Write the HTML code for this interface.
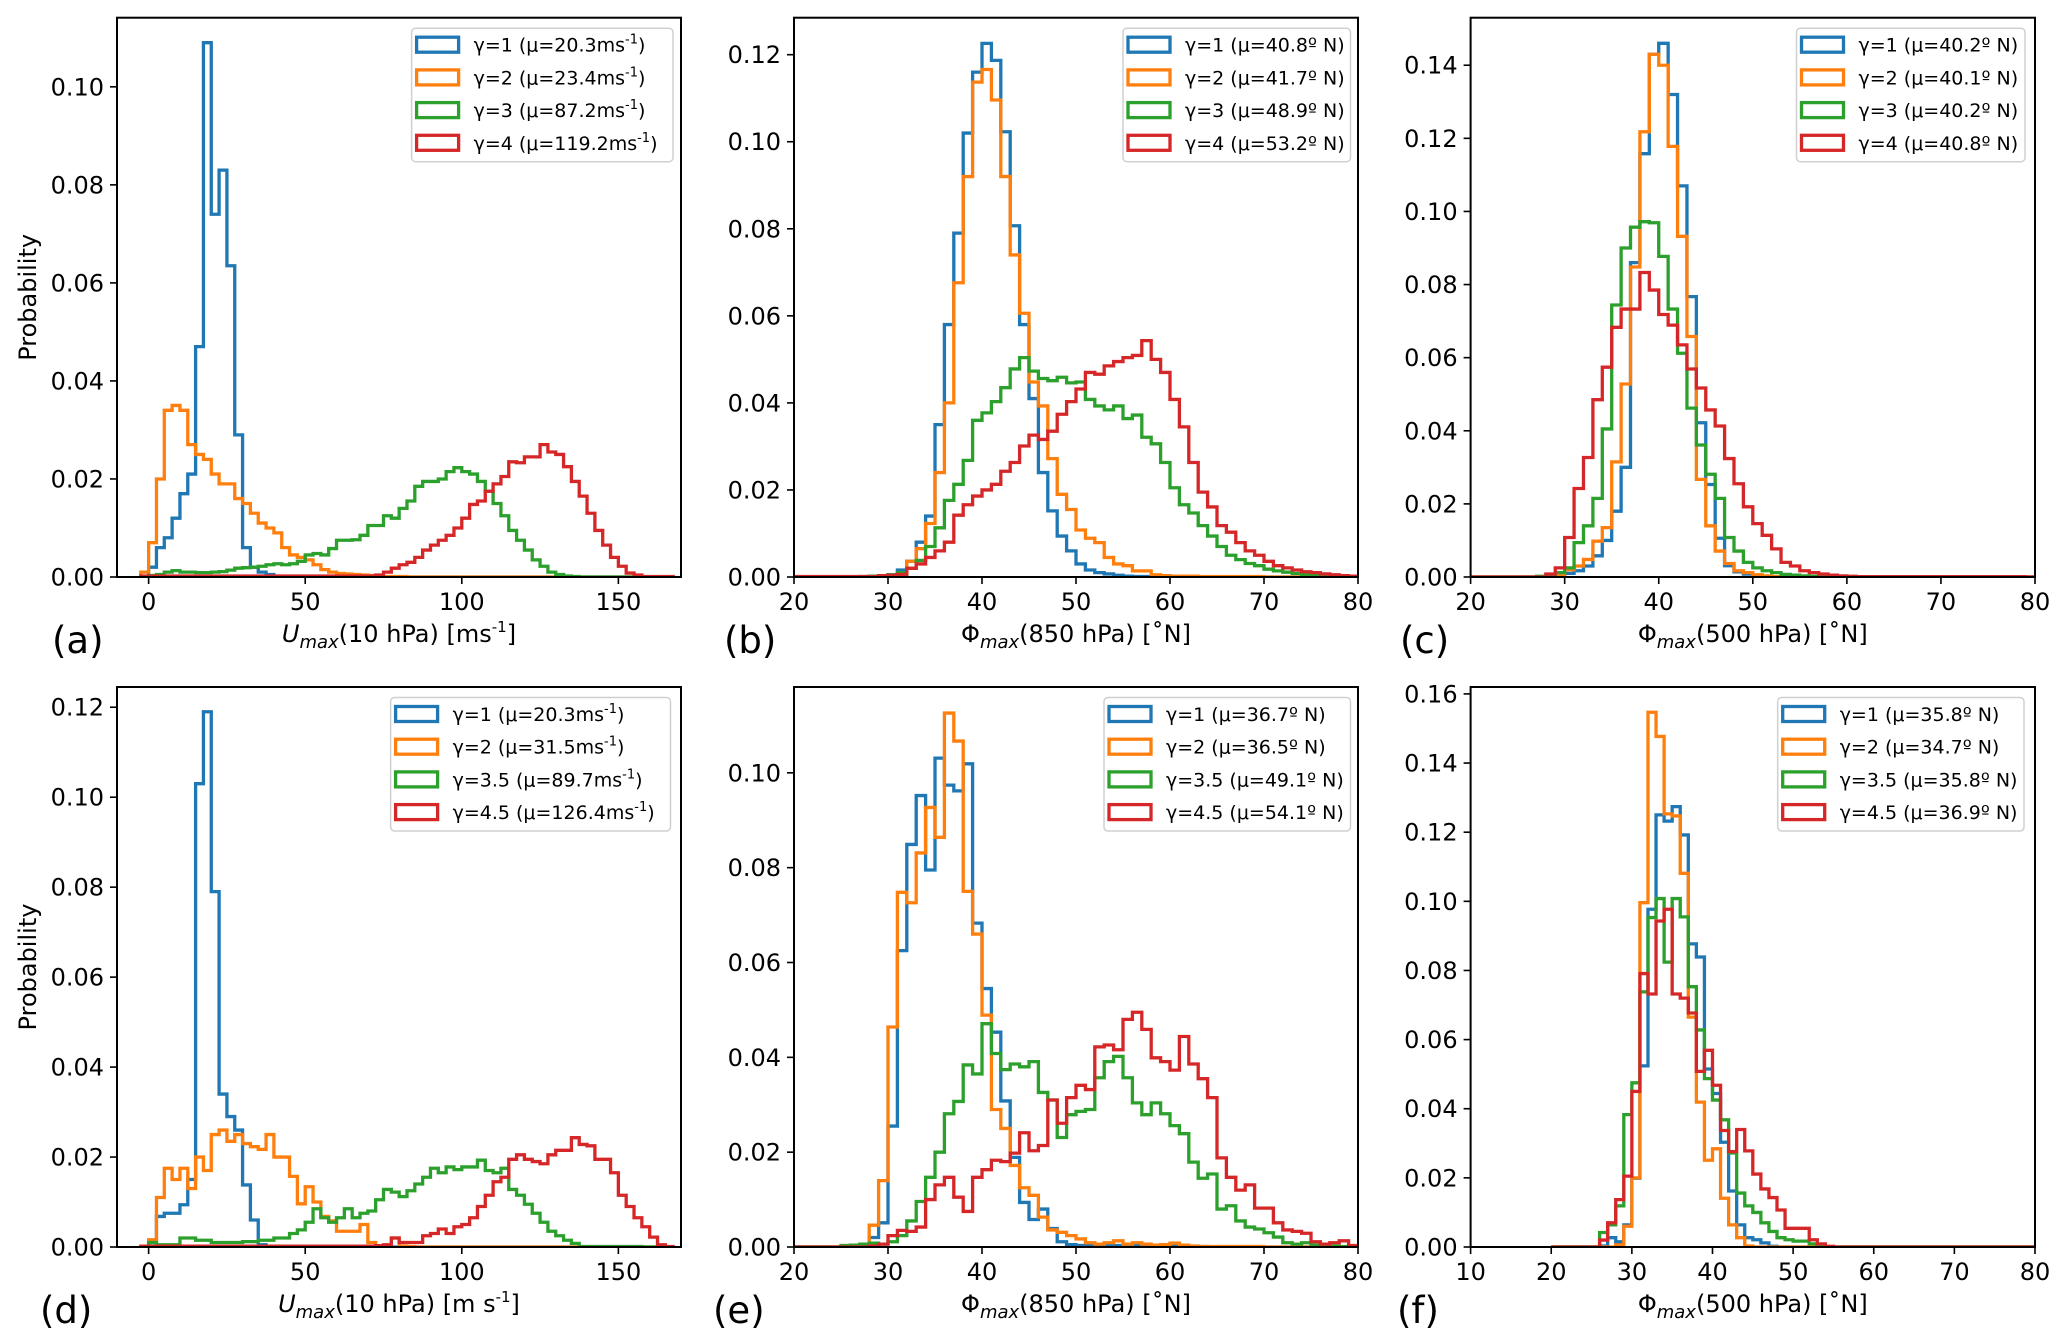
<!DOCTYPE html>
<html><head><meta charset="utf-8">
<style>
html,body{margin:0;padding:0;background:#fff;}
svg{display:block;font-family:"DejaVu Sans","Liberation Sans",sans-serif;}
</style></head>
<body>
<svg id="fig" width="2067" height="1334" viewBox="0 0 2067 1334" xmlns="http://www.w3.org/2000/svg"></svg>
<script>
// ---------------- DATA ----------------
const aBlue=[0,0.002,0.006,0.008,0.012,0.017,0.021,0.047,0.109,0.074,0.083,0.0635,0.029,0.006,0.002,0.001,0.0005,0,0,0,0,0,0,0,0,0,0,0,0,0,0,0,0,0,0,0,0,0,0,0,0,0,0,0,0,0,0,0,0,0,0,0,0,0,0,0,0,0,0,0,0,0,0,0,0,0,0,0];
const aOrange=[0.001,0.007,0.02,0.034,0.035,0.034,0.027,0.025,0.024,0.021,0.019,0.019,0.016,0.015,0.013,0.011,0.01,0.009,0.006,0.0045,0.004,0.0035,0.0025,0.0015,0.001,0.0007,0.0006,0.0005,0.0004,0.0003,0.0002,0.0001,0.0001,0.0001,0,0,0,0,0,0,0,0,0,0,0,0,0,0,0,0,0,0,0,0,0,0,0,0,0,0,0,0,0,0,0,0,0,0];
const aGreen=[0,0.0003,0.0005,0.001,0.0013,0.001,0.001,0.0009,0.0009,0.001,0.0011,0.0014,0.0018,0.0019,0.002,0.0022,0.0025,0.0027,0.0025,0.0027,0.0032,0.0045,0.0048,0.0045,0.0058,0.0075,0.0075,0.0076,0.0085,0.0105,0.0105,0.0125,0.012,0.014,0.0155,0.0185,0.0195,0.0195,0.02,0.0215,0.0223,0.0215,0.021,0.0195,0.0175,0.015,0.0125,0.0095,0.0075,0.0055,0.0035,0.0022,0.001,0.0005,0.0002,0.0001,0,0,0,0,0,0,0,0,0,0,0,0];
const aRed=[0.0002,0.0002,0.0002,0.0002,0.0002,0.0002,0.0002,0.0002,0.0002,0.0002,0.0002,0.0002,0.0002,0.0002,0.0002,0.0002,0.0002,0.0002,0.0002,0.0002,0.0002,0.0002,0.0002,0.0002,0.0002,0.0002,0.0002,0.0002,0.0002,0.0002,0.0004,0.001,0.0018,0.0025,0.003,0.004,0.0055,0.0065,0.0075,0.0085,0.01,0.012,0.0148,0.0155,0.0175,0.019,0.0205,0.0235,0.0233,0.0245,0.0245,0.027,0.0255,0.025,0.0225,0.0195,0.0165,0.013,0.0095,0.0065,0.004,0.0022,0.0008,0.0004,0.0001,0.0001,0.0001,0.0001];
const dBlue=[0,0.001,0.0068,0.0075,0.0075,0.0094,0.015,0.103,0.119,0.079,0.034,0.029,0.026,0.0138,0.006,0.0005,0,0,0,0,0,0,0,0,0,0,0,0,0,0,0,0,0,0,0,0,0,0,0,0,0,0,0,0,0,0,0,0,0,0,0,0,0,0,0,0,0,0,0,0,0,0,0,0,0,0,0,0];
const dOrange=[0,0.0016,0.011,0.0175,0.015,0.0175,0.013,0.02,0.017,0.025,0.026,0.0235,0.025,0.023,0.0223,0.0217,0.025,0.02,0.02,0.0157,0.0096,0.0134,0.01,0.0068,0.0058,0.0035,0.0035,0.0035,0.005,0.001,0.0003,0.0003,0.002,0.0002,0.0001,0,0,0,0,0,0,0,0,0,0,0,0,0,0,0,0,0,0,0,0,0,0,0,0,0,0,0,0,0,0,0,0,0];
const dGreen=[0,0.001,0.0005,0.0005,0.0005,0.002,0.002,0.0015,0.0015,0.001,0.001,0.001,0.001,0.0012,0.0012,0.0015,0.0015,0.002,0.002,0.003,0.0038,0.0055,0.0085,0.0065,0.0055,0.0065,0.0085,0.0065,0.0075,0.008,0.0105,0.0128,0.0122,0.0112,0.0125,0.014,0.0155,0.0175,0.0165,0.0178,0.0172,0.0178,0.0178,0.0193,0.017,0.0165,0.0175,0.0128,0.0115,0.0095,0.0075,0.0055,0.0035,0.0025,0.0015,0.0008,0.0001,0.0001,0.0001,0.0001,0.0001,0.0001,0.0001,0.0001,0,0,0,0];
const dRed=[0.0002,0.0002,0.0002,0.0002,0.0002,0.0002,0.0002,0.0002,0.0002,0.0002,0.0002,0.0002,0.0002,0.0002,0.0002,0.0002,0.0002,0.0002,0.0002,0.0002,0.0002,0.0002,0.0002,0.0002,0.0002,0.0002,0.0002,0.0002,0.0002,0.0002,0.0003,0.0005,0.002,0.001,0.001,0.001,0.0025,0.003,0.004,0.003,0.0045,0.005,0.0065,0.009,0.0115,0.0145,0.0155,0.0195,0.0205,0.0195,0.019,0.0185,0.0205,0.0215,0.0215,0.0243,0.0228,0.0225,0.0195,0.0195,0.0165,0.0115,0.009,0.0065,0.0045,0.0022,0.0005,0.0001];
const bBlue=[0,0,0,0,0,0,0,0.0001,0.0002,0.0003,0.0005,0.0016,0.0036,0.008,0.014,0.035,0.058,0.079,0.102,0.116,0.1226,0.1187,0.1023,0.0807,0.058,0.041,0.024,0.0152,0.0094,0.006,0.003,0.0016,0.001,0.0007,0.0004,0.0002,0.0001,0.0001,0.0001,0,0,0,0,0,0,0,0,0,0,0,0,0,0,0,0,0,0,0,0,0];
const bOrange=[0,0,0,0,0,0,0,0,0.0001,0.0002,0.0004,0.0008,0.0036,0.0065,0.0123,0.024,0.04,0.0676,0.092,0.1137,0.1166,0.1096,0.092,0.074,0.0606,0.0448,0.0393,0.0272,0.019,0.0155,0.0108,0.0089,0.0079,0.0045,0.003,0.0026,0.0014,0.0014,0.0005,0.0003,0.0002,0.0002,0.0002,0.0001,0.0001,0.0001,0.0001,0.0001,0.0001,0.0001,0,0,0,0,0,0,0,0,0,0];
const bGreen=[0,0,0,0,0,0,0,0,0.0002,0.0003,0.0005,0.001,0.002,0.0038,0.007,0.0113,0.0176,0.0213,0.0268,0.036,0.0377,0.0403,0.0435,0.0478,0.0504,0.0473,0.0456,0.0451,0.0459,0.0446,0.0448,0.0408,0.0393,0.0384,0.0393,0.0364,0.0372,0.0321,0.0306,0.0263,0.0205,0.0166,0.0147,0.0118,0.0094,0.007,0.005,0.004,0.0031,0.0026,0.0018,0.0014,0.0011,0.0008,0.0006,0.0004,0.0002,0.0001,0,0];
const bRed=[0.0001,0.0001,0.0001,0.0001,0.0001,0.0001,0.0001,0.0001,0.0001,0.0003,0.0004,0.0006,0.002,0.003,0.0045,0.006,0.008,0.0142,0.0166,0.0186,0.02,0.0213,0.0243,0.0263,0.0301,0.0326,0.0316,0.0335,0.0374,0.0403,0.0432,0.047,0.0466,0.0485,0.0495,0.0504,0.0509,0.0543,0.05,0.047,0.0408,0.0345,0.0263,0.0195,0.0161,0.0118,0.0103,0.0079,0.006,0.005,0.0036,0.0026,0.0021,0.0016,0.0012,0.001,0.0007,0.0005,0.0003,0.0002];
const cBlue=[0,0,0,0,0,0,0,0,0,0.0003,0.001,0.0017,0.003,0.0058,0.01,0.018,0.03,0.086,0.1158,0.143,0.146,0.132,0.107,0.0767,0.0422,0.0253,0.0106,0.0031,0.0014,0.0008,0.0004,0.0002,0.0001,0,0,0,0,0,0,0,0,0,0,0,0,0,0,0,0,0,0,0,0,0,0,0,0,0,0,0];
const cOrange=[0,0,0,0,0,0,0,0,0.0002,0.0004,0.002,0.003,0.0048,0.0098,0.0135,0.0315,0.0528,0.0848,0.1218,0.143,0.14,0.1178,0.0932,0.0658,0.0267,0.014,0.0071,0.0037,0.0017,0.0012,0.0006,0.0003,0.0001,0,0,0,0,0,0,0,0,0,0,0,0,0,0,0,0,0,0,0,0,0,0,0,0,0,0,0];
const cGreen=[0,0,0,0,0,0,0,0.0002,0.0005,0.0012,0.0025,0.0094,0.014,0.0215,0.0405,0.0744,0.09,0.0957,0.0972,0.0969,0.0877,0.0733,0.0612,0.0462,0.0361,0.0281,0.0215,0.0108,0.0071,0.004,0.0025,0.0017,0.0012,0.0007,0.0005,0.0003,0.0002,0.0001,0,0,0,0,0,0,0,0,0,0,0,0,0,0,0,0,0,0,0,0,0,0];
const cRed=[0,0,0,0,0,0,0,0,0.0008,0.0025,0.0108,0.0242,0.0327,0.0485,0.0574,0.0683,0.0733,0.0733,0.0833,0.0785,0.0718,0.0689,0.0635,0.0569,0.0517,0.0457,0.0413,0.0324,0.0255,0.0192,0.0146,0.0114,0.0077,0.004,0.003,0.0017,0.0012,0.0008,0.0005,0.0003,0.0002,0.0001,0.0001,0.0001,0.0001,0.0001,0.0001,0.0001,0.0001,0.0001,0.0001,0.0001,0.0001,0.0001,0.0001,0.0001,0.0001,0.0001,0.0001,0];
const eBlue=[0,0,0,0,0,0,0,0,0.002,0.0051,0.0255,0.0625,0.0849,0.0952,0.0795,0.1031,0.0974,0.0962,0.1019,0.0683,0.0545,0.0453,0.0308,0.0189,0.0094,0.0058,0.008,0.0039,0.0011,0.0005,0.0003,0.0003,0.0003,0.0003,0.0003,0.0003,0.0003,0.0003,0.0003,0.0003,0.0003,0.0001,0.0001,0.0001,0,0,0,0,0,0,0,0,0,0,0,0,0,0,0,0];
const eOrange=[0,0,0,0,0,0,0,0.0003,0.0046,0.014,0.0464,0.0748,0.0726,0.0831,0.0927,0.0864,0.1126,0.1067,0.075,0.066,0.0489,0.029,0.025,0.0172,0.0125,0.0109,0.0063,0.0036,0.0031,0.0024,0.0017,0.0009,0.0006,0.0009,0.0013,0.0006,0.0009,0.0006,0.0004,0.0005,0.0008,0.0004,0.0002,0.0001,0.0001,0.0001,0.0001,0.0001,0.0001,0.0001,0,0,0,0,0,0,0,0,0,0];
const eGreen=[0,0,0,0,0,0.0003,0.0004,0.0006,0.0008,0.0006,0.0011,0.0024,0.0055,0.0096,0.0147,0.02,0.0281,0.0307,0.0384,0.0365,0.0471,0.0408,0.0374,0.0386,0.038,0.0391,0.0326,0.031,0.0231,0.0279,0.0286,0.029,0.0357,0.0391,0.0402,0.0357,0.0304,0.0279,0.0304,0.0281,0.0256,0.0239,0.0179,0.0145,0.0154,0.008,0.0087,0.0055,0.0042,0.0038,0.003,0.0021,0.0009,0.0006,0.0009,0.0004,0.0003,0.0002,0.0001,0];
const eRed=[0,0,0,0,0,0,0,0,0.0002,0.0006,0.0024,0.0035,0.0033,0.0042,0.01,0.0131,0.0147,0.0105,0.0075,0.0147,0.0163,0.0183,0.018,0.0198,0.0241,0.0203,0.0214,0.031,0.0261,0.0315,0.0341,0.0332,0.0422,0.0426,0.0416,0.048,0.0495,0.0459,0.0399,0.0391,0.0373,0.0444,0.0386,0.0355,0.0315,0.0188,0.0147,0.012,0.0131,0.0082,0.0082,0.0051,0.0036,0.0033,0.0029,0.0011,0.0006,0.0009,0.0013,0.0003];
const fBlue=[0,0,0,0,0,0,0.0003,0.0027,0.0015,0.0064,0.0199,0.0524,0.0977,0.125,0.1232,0.1274,0.1192,0.0877,0.0839,0.0515,0.0444,0.0303,0.0162,0.0064,0.0027,0.0021,0.0012,0.0002,0,0,0,0,0,0,0,0,0,0,0,0,0,0,0,0,0,0,0,0,0,0,0,0,0,0,0,0,0,0,0,0];
const fOrange=[0,0,0,0,0,0,0,0,0.0006,0.006,0.02,0.0996,0.1547,0.1477,0.1253,0.1247,0.1081,0.0665,0.0419,0.0251,0.0284,0.0141,0.0064,0.0027,0.0003,0,0,0,0,0,0,0,0,0,0,0,0,0,0,0,0,0,0,0,0,0,0,0,0,0,0,0,0,0,0,0,0,0,0,0];
const fGreen=[0,0,0,0,0,0,0.0042,0.0064,0.0119,0.0383,0.0475,0.0738,0.0953,0.1008,0.0824,0.1008,0.0955,0.0753,0.0628,0.0487,0.0425,0.0368,0.0272,0.0156,0.0119,0.01,0.007,0.0045,0.0027,0.0021,0.0017,0.0017,0.0009,0.0004,0.0001,0,0,0,0,0,0,0,0,0,0,0,0,0,0,0,0,0,0,0,0,0,0,0,0,0];
const fRed=[0,0,0,0,0,0,0.002,0.007,0.0137,0.0205,0.045,0.0791,0.0732,0.0943,0.0977,0.0732,0.072,0.0677,0.0508,0.0569,0.0468,0.0337,0.0276,0.034,0.0278,0.0211,0.0168,0.0143,0.0107,0.0054,0.0054,0.0054,0.0021,0.0009,0.0002,0,0,0,0,0,0,0,0,0,0,0,0,0,0,0,0,0,0,0,0,0,0,0,0,0];

const uTicksX=[0,50,100,150];
const latTicksX=[20,30,40,50,60,70,80];
const latTicksXf=[10,20,30,40,50,60,70,80];
const yTicksA=[0,0.02,0.04,0.06,0.08,0.10];
const yTicksB=[0,0.02,0.04,0.06,0.08,0.10,0.12];
const yTicksC=[0,0.02,0.04,0.06,0.08,0.10,0.12,0.14];
const yTicksE=[0,0.02,0.04,0.06,0.08,0.10];
const yTicksF=[0,0.02,0.04,0.06,0.08,0.10,0.12,0.14,0.16];
// legend labels: [main text, superscript]
const legA=[["γ=1 (μ=20.3ms","-1",")"],["γ=2 (μ=23.4ms","-1",")"],["γ=3 (μ=87.2ms","-1",")"],["γ=4 (μ=119.2ms","-1",")"]];
const legB=[["γ=1 (μ=40.8º N)"],["γ=2 (μ=41.7º N)"],["γ=3 (μ=48.9º N)"],["γ=4 (μ=53.2º N)"]];
const legC=[["γ=1 (μ=40.2º N)"],["γ=2 (μ=40.1º N)"],["γ=3 (μ=40.2º N)"],["γ=4 (μ=40.8º N)"]];
const legD=[["γ=1 (μ=20.3ms","-1",")"],["γ=2 (μ=31.5ms","-1",")"],["γ=3.5 (μ=89.7ms","-1",")"],["γ=4.5 (μ=126.4ms","-1",")"]];
const legE=[["γ=1 (μ=36.7º N)"],["γ=2 (μ=36.5º N)"],["γ=3.5 (μ=49.1º N)"],["γ=4.5 (μ=54.1º N)"]];
const legF=[["γ=1 (μ=35.8º N)"],["γ=2 (μ=34.7º N)"],["γ=3.5 (μ=35.8º N)"],["γ=4.5 (μ=36.9º N)"]];

// ---------------- DRAWING ----------------
const NS="http://www.w3.org/2000/svg";
const svg=document.getElementById('fig');
const COLORS=["#1f77b4","#ff7f0e","#2ca02c","#d62728"];
const SNAMES=["blue","orange","green","red"];
function mk(tag,attrs,parent){const e=document.createElementNS(NS,tag);for(const k in attrs)e.setAttribute(k,attrs[k]);(parent||svg).appendChild(e);return e;}

function panel(p){
  const g=mk('g',{});
  
  
  const sx=v=>p.x0+(v-p.xmin)/(p.xmax-p.xmin)*(p.x1-p.x0);
  const sy=v=>p.y1-(v-0)/(p.ymax)*(p.y1-p.y0);
  const clipId='clip'+p.id;
  const cp=mk('clipPath',{id:clipId},g);mk('rect',{x:p.x0,y:p.y0,width:p.x1-p.x0,height:p.y1-p.y0},cp);
  const sg=mk('g',{'clip-path':'url(#'+clipId+')'},g);
  p.series.forEach((vals,si)=>{
    let d='M'+sx(p.bstart)+','+sy(0);
    for(let i=0;i<vals.length;i++){
      const xa=sx(p.bstart+i*p.bw),xb=sx(p.bstart+(i+1)*p.bw),yy=sy(vals[i]);
      d+=' L'+xa+','+yy+' L'+xb+','+yy;
    }
    d+=' L'+sx(p.bstart+vals.length*p.bw)+','+sy(0);
    const path=mk('path',{d:d,fill:'none',stroke:COLORS[si],'stroke-width':3.3,'stroke-linejoin':'miter'},sg);
    
    
  });
  const fr=mk('rect',{x:p.x0,y:p.y0,width:p.x1-p.x0,height:p.y1-p.y0,fill:'none',stroke:'#000','stroke-width':2},g);
  
  
  p.xticks.forEach(t=>{
    const x=sx(t);
    mk('line',{x1:x,x2:x,y1:p.y1,y2:p.y1+7,stroke:'#000','stroke-width':1.6},g);
    const tx=mk('text',{x:x,y:p.y1+33,'font-size':24,'text-anchor':'middle'},g);
    tx.textContent=String(t);
    
    
  });
  p.yticks.forEach(t=>{
    const y=sy(t);
    mk('line',{x1:p.x0-7,x2:p.x0,y1:y,y2:y,stroke:'#000','stroke-width':1.6},g);
    const ty=mk('text',{x:p.x0-13,y:y+8.5,'font-size':24,'text-anchor':'end'},g);
    ty.textContent=t.toFixed(2);
    
    
  });
  const xl=mk('text',{x:(p.x0+p.x1)/2,y:p.y1+65,'font-size':24,'text-anchor':'middle'},g);
  
  
  const t1=mk('tspan',{'font-style':p.xlabel[0]==='U'?'italic':'normal'},xl);t1.textContent=p.xlabel[0];
  const t2=mk('tspan',{'font-size':18,'font-style':'italic',dy:6},xl);t2.textContent='max';
  const t3=mk('tspan',{dy:-6},xl);t3.textContent=p.xlabel[1];
  if(p.xlabel[2]){const t4=mk('tspan',{'font-size':15,dy:-10},xl);t4.textContent=p.xlabel[2];const t5=mk('tspan',{dy:10},xl);t5.textContent=']';}
  if(p.ylabel){
    const yl=mk('text',{x:0,y:0,'font-size':24,'text-anchor':'middle',transform:'translate('+(p.x0-81)+','+((p.y0+p.y1)/2)+') rotate(-90)'},g);
    yl.textContent='Probability';
    
    
  }
  const lt=mk('text',{x:p.lx,y:p.y1+76,'font-size':37},g);
  lt.textContent='('+p.id+')';
  
  
  const lg=mk('g',{},g);
  
  
  mk('rect',{x:p.leg[0],y:p.y0+10.5,width:p.leg[1]-p.leg[0],height:133.5,rx:4,fill:'#fff','fill-opacity':0.8,stroke:'#d0d0d0','stroke-width':1.5},lg);
  p.legend.forEach((s,i)=>{
    const cy=p.y0+27+i*32.7;
    const r=mk('rect',{x:p.leg[0]+5,y:cy-7.5,width:42,height:15,fill:'none',stroke:COLORS[i],'stroke-width':3.3},lg);
    
    
    const tt=mk('text',{x:p.leg[0]+62,y:cy+7,'font-size':19},lg);
    
    
    const a=mk('tspan',{},tt);a.textContent=s[0];
    if(s.length>1){
      const b=mk('tspan',{'font-size':13,dy:-8},tt);b.textContent=s[1];
      const c=mk('tspan',{dy:8},tt);c.textContent=s[2];
    }
  });
}
const U=["U","(10 hPa) [m s","-1"];
const Ua=["U","(10 hPa) [ms","-1"];
const P850=["Φ","(850 hPa) [˚N]"];
const P500=["Φ","(500 hPa) [˚N]"];
const top0=17.7,top1=577,bot0=687,bot1=1247;
panel({id:'a',x0:117,x1:681,y0:top0,y1:top1,xmin:-10.1,xmax:170,ymax:0.1141,bstart:-2.5,bw:2.5,series:[aBlue,aOrange,aGreen,aRed],xticks:uTicksX,yticks:yTicksA,xlabel:Ua,ylabel:true,lx:52,legend:legA,leg:[411.6,673]});
panel({id:'b',x0:794,x1:1358,y0:top0,y1:top1,xmin:20,xmax:80,ymax:0.1285,bstart:20,bw:1,series:[bBlue,bOrange,bGreen,bRed],xticks:latTicksX,yticks:yTicksB,xlabel:P850,lx:724,legend:legB,leg:[1123,1350.5]});
panel({id:'c',x0:1470.6,x1:2035,y0:top0,y1:top1,xmin:20,xmax:80,ymax:0.153,bstart:20,bw:1,series:[cBlue,cOrange,cGreen,cRed],xticks:latTicksX,yticks:yTicksC,xlabel:P500,lx:1400,legend:legC,leg:[1796.5,2025]});
panel({id:'d',x0:117,x1:681,y0:bot0,y1:bot1,xmin:-10.1,xmax:170,ymax:0.1245,bstart:-2.5,bw:2.5,series:[dBlue,dOrange,dGreen,dRed],xticks:uTicksX,yticks:yTicksB,xlabel:U,ylabel:true,lx:40,legend:legD,leg:[390.6,670.5]});
panel({id:'e',x0:794,x1:1358,y0:bot0,y1:bot1,xmin:20,xmax:80,ymax:0.1181,bstart:20,bw:1,series:[eBlue,eOrange,eGreen,eRed],xticks:latTicksX,yticks:yTicksE,xlabel:P850,lx:713,legend:legE,leg:[1104,1350.5]});
panel({id:'f',x0:1470.6,x1:2035,y0:bot0,y1:bot1,xmin:10,xmax:80,ymax:0.162,bstart:20,bw:1,series:[fBlue,fOrange,fGreen,fRed],xticks:latTicksXf,yticks:yTicksF,xlabel:P500,lx:1397,legend:legF,leg:[1777.7,2024]});
</script>
</body></html>
